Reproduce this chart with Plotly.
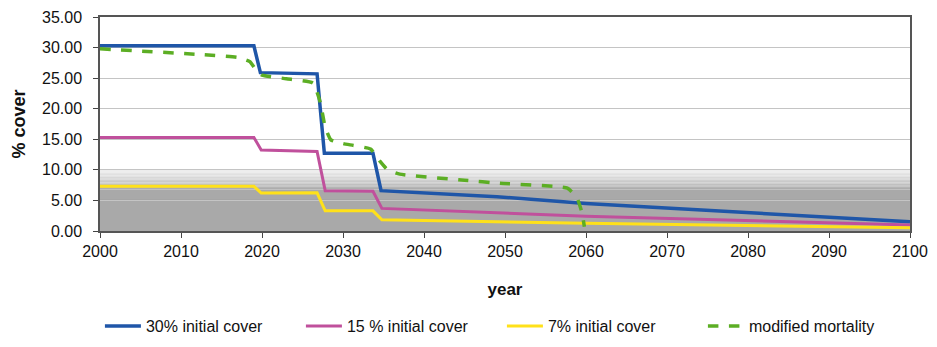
import plotly.graph_objects as go

# ---- data ----
years_30 = [2000, 2019, 2019.8, 2026.8, 2027.7, 2033.7, 2034.7, 2049, 2060, 2100]
cover_30 = [30.3, 30.3, 25.9, 25.7, 12.7, 12.7, 6.6, 5.6, 4.5, 1.5]

years_15 = [2000, 2019, 2019.9, 2026.8, 2027.8, 2033.7, 2034.8, 2049, 2060, 2100]
cover_15 = [15.3, 15.3, 13.25, 13.0, 6.6, 6.5, 3.7, 3.0, 2.4, 1.0]

years_7 = [2000, 2019, 2019.9, 2026.8, 2027.8, 2033.7, 2034.8, 2049, 2060, 2100]
cover_7 = [7.3, 7.3, 6.2, 6.25, 3.3, 3.3, 1.85, 1.5, 1.25, 0.55]

years_mod = [2000, 2012, 2017, 2018.5, 2019.3, 2020, 2023, 2026.3, 2027.2, 2027.8, 2028.5,
             2030, 2033.4, 2034.5, 2035.5, 2037, 2045, 2049.4, 2057.7, 2058.9, 2059.5, 2059.8]
cover_mod = [29.8, 28.9, 28.4, 27.7, 26.3, 25.5, 24.9, 24.2, 21.0, 17.0, 14.9,
             14.3, 13.4, 11.5, 10.0, 9.3, 8.3, 7.8, 7.0, 5.4, 3.0, 0.7]

series_names = ["30% initial cover", "15 % initial cover", "7% initial cover", "modified mortality"]
x_ticks = list(range(2000, 2101, 10))
y_ticks = [0, 5, 10, 15, 20, 25, 30, 35]

FONT = "Liberation Sans Narrow, Arial Narrow, Liberation Sans, Arial, sans-serif"

fig = go.Figure()
fig.add_trace(go.Scatter(x=years_30, y=cover_30, mode="lines", name=series_names[0],
                         line=dict(color="#1f56a8", width=3.5)))
fig.add_trace(go.Scatter(x=years_15, y=cover_15, mode="lines", name=series_names[1],
                         line=dict(color="#c0509c", width=3)))
fig.add_trace(go.Scatter(x=years_7, y=cover_7, mode="lines", name=series_names[2],
                         line=dict(color="#ffe11a", width=3)))
fig.add_trace(go.Scatter(x=years_mod, y=cover_mod, mode="lines", name=series_names[3],
                         line=dict(color="#5cae24", width=3.5, dash="dash", shape="spline", smoothing=0.4)))

# grey shaded band with gradient top
shapes = [dict(type="rect", xref="paper", yref="y", x0=0, x1=1, y0=0, y1=6.8,
               fillcolor="#a9a9a9", line=dict(width=0), layer="below")]
n = 14
for i in range(n):
    y0 = 6.8 + (10.0 - 6.8) * i / n
    y1 = 6.8 + (10.0 - 6.8) * (i + 1) / n
    t = (i + 0.5) / n
    c = int(169 + (240 - 169) * t ** 0.8)
    shapes.append(dict(type="rect", xref="paper", yref="y", x0=0, x1=1, y0=y0, y1=y1,
                       fillcolor=f"rgb({c},{c},{c})", line=dict(width=0), layer="below"))
shapes.append(dict(type="line", xref="paper", yref="y", x0=0, x1=1, y0=5, y1=5,
                   line=dict(color="#7f7f7f", width=1), layer="below"))

fig.update_layout(
    width=937, height=347,
    margin=dict(l=100, r=27, t=17, b=116, autoexpand=False),
    paper_bgcolor="white", plot_bgcolor="white",
    font=dict(family=FONT, size=16, color="#111111"),
    shapes=shapes,
    showlegend=True,
    legend=dict(orientation="h", x=-0.0001, xanchor="left", y=-0.444, yanchor="middle",
                entrywidth=150, entrywidthmode="pixels", itemwidth=36,
                font=dict(family=FONT, size=16, color="#111111"),
                tracegroupgap=0),
    xaxis=dict(range=[2000, 2100], tickvals=x_ticks, ticktext=[str(v) for v in x_ticks],
               showgrid=False, zeroline=False, showline=True, linecolor="#555555", linewidth=1.5,
               mirror=True, ticks="outside", ticklen=5, tickcolor="#444444",
               ticklabelstandoff=0,
               title=dict(text="<b>year</b>", font=dict(family=FONT, size=17), standoff=24)),
    yaxis=dict(range=[0, 35], tickvals=y_ticks, ticktext=[f"{v:.2f}" for v in y_ticks],
               showgrid=True, gridcolor="#c4c4c4", gridwidth=1, zeroline=False,
               showline=True, linecolor="#555555", linewidth=1.5, mirror=True,
               ticks="outside", ticklen=5, tickcolor="#444444",
               ticklabelstandoff=8,
               title=dict(text="<b>% cover</b>", font=dict(family=FONT, size=18), standoff=12)),
)

fig.write_html("out.html", config={"displayModeBar": False},
               post_script="document.body.style.margin='0';document.body.style.overflow='hidden';")
